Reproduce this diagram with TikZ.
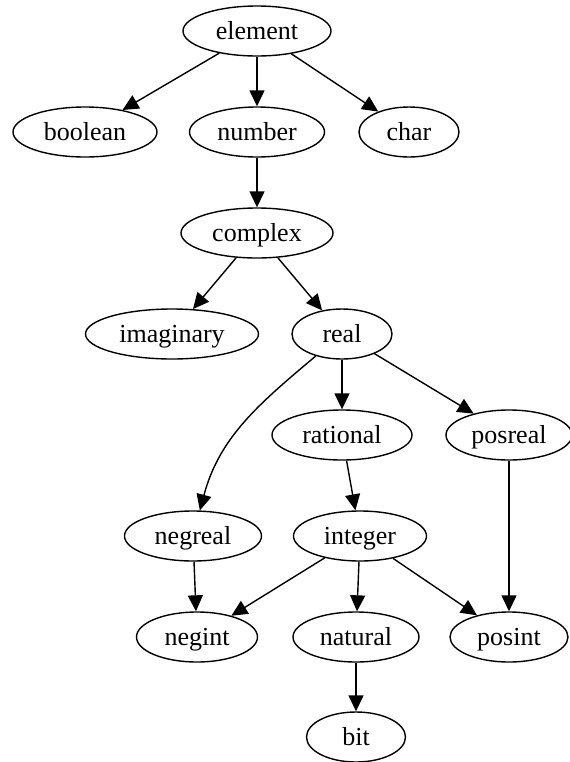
\documentclass[tikz,border=0pt]{standalone}
\usepackage{fontspec}
\setmainfont{Liberation Serif}
\usetikzlibrary{arrows.meta,shapes.geometric}
\tikzset{
  elt/.style={draw,ellipse,line width=0.7pt,minimum height=25pt,inner sep=0pt,
    text height=10pt,text depth=1.5pt,font=\fontsize{13}{15}\selectfont},
  ar/.style={-{Triangle[length=8pt,width=7.5pt]},line width=0.7pt},
}
\begin{document}
\begin{tikzpicture}[x=0.5pt,y=-0.5pt]
\useasboundingbox (0,0) rectangle (569,762);
% ---- upper ranks ----
\node[elt,minimum width=74pt] (element) at (257,31) {element};
\node[elt,minimum width=72pt] (boolean) at (85,132) {boolean};
\node[elt,minimum width=67.5pt] (number) at (257,132) {number};
\node[elt,minimum width=50pt] (char) at (409,132) {char};
\node[elt,minimum width=76pt] (complex) at (257,233) {complex};
\node[elt,minimum width=86.5pt] (imaginary) at (172,334) {imaginary};
\node[elt,minimum width=50pt] (real) at (342,334) {real};
% ---- lower ranks ----
\node[elt,minimum width=70pt] (rational) at (342,435) {rational};
\node[elt,minimum width=63pt] (posreal) at (509,435) {posreal};
\node[elt,minimum width=68.5pt] (negreal) at (193,536) {negreal};
\node[elt,minimum width=66.5pt] (integer) at (360,536) {integer};
\node[elt,minimum width=60.5pt] (negint) at (197,637) {negint};
\node[elt,minimum width=63pt] (natural) at (356,637) {natural};
\node[elt,minimum width=59pt] (posint) at (509,637) {posint};
\node[elt,minimum width=49.5pt] (bit) at (356,737) {bit};

\draw[ar] (element) -- (boolean);
\draw[ar] (element) -- (number);
\draw[ar] (element) -- (char);
\draw[ar] (number) -- (complex);
\draw[ar] (complex) -- (imaginary);
\draw[ar] (complex) -- (real);
\draw[ar] (real) to[out=220,in=75] (negreal);
\draw[ar] (real) -- (rational);
\draw[ar] (real) -- (posreal);
\draw[ar] (rational) -- (integer);
\draw[ar] (posreal) -- (posint);
\draw[ar] (negreal) -- (negint);
\draw[ar] (integer) -- (negint);
\draw[ar] (integer) -- (natural);
\draw[ar] (integer) -- (posint);
\draw[ar] (natural) -- (bit);
\end{tikzpicture}
\end{document}
